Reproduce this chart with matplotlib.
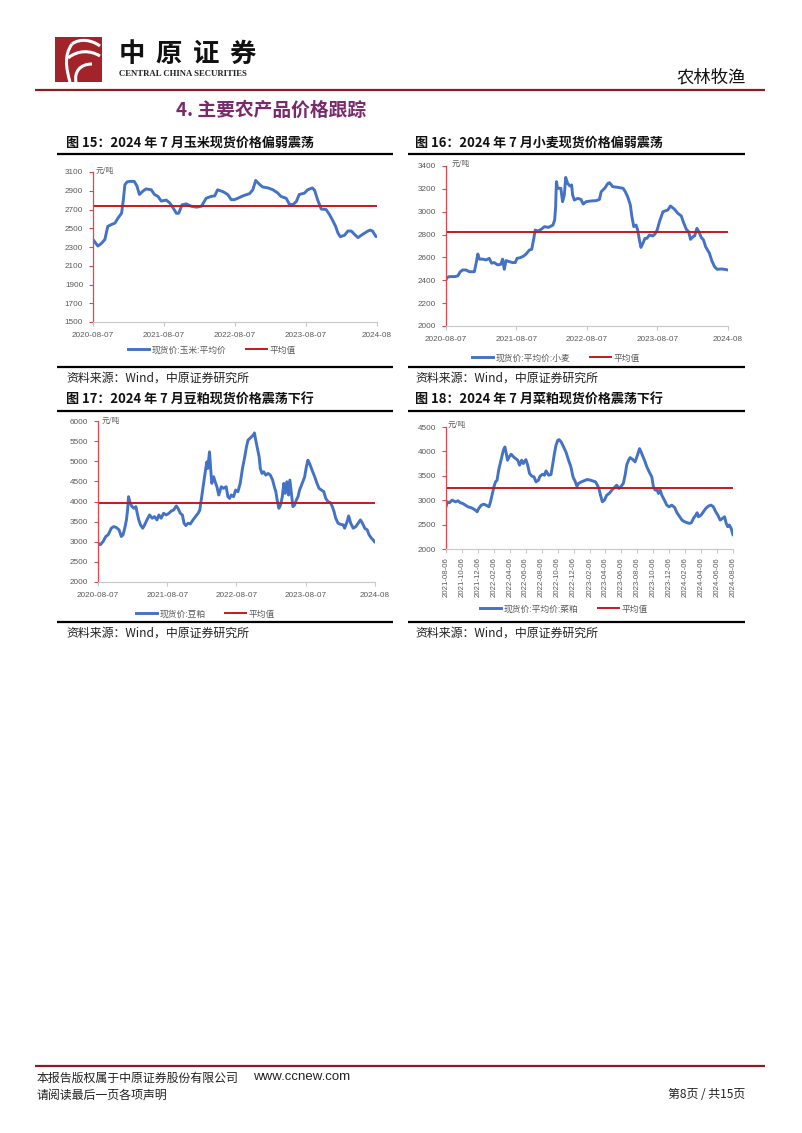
import matplotlib
matplotlib.use("Agg")
import matplotlib.pyplot as plt
from matplotlib.lines import Line2D
from matplotlib.patches import Rectangle, PathPatch
from matplotlib.path import Path
import pandas as pd

# ---------------- data ----------------
corn_dates = ["2020-08-07","2020-09-01","2020-09-20","2020-10-07","2020-10-22","2020-11-10","2020-11-28","2020-12-14","2021-01-01","2021-01-10",
              "2021-01-18","2021-01-30","2021-02-13","2021-03-07","2021-03-21","2021-04-03","2021-04-20","2021-05-07","2021-06-03","2021-06-19",
              "2021-07-07","2021-07-24","2021-08-19","2021-09-06","2021-09-22","2021-10-10","2021-10-22","2021-11-08","2021-11-30","2021-12-25",
              "2022-01-22","2022-02-16","2022-03-12","2022-04-07","2022-04-25","2022-05-10","2022-06-07","2022-07-01","2022-07-19","2022-08-04",
              "2022-08-22","2022-09-17","2022-10-22","2022-11-07","2022-11-22","2022-12-13","2022-12-28","2023-01-25","2023-02-19","2023-03-16",
              "2023-03-31","2023-04-28","2023-05-13","2023-05-31","2023-06-19","2023-07-04","2023-07-31","2023-08-16","2023-09-09","2023-09-21",
              "2023-10-07","2023-10-25","2023-11-19","2023-12-07","2023-12-25","2024-01-07","2024-01-19","2024-01-31","2024-02-22","2024-03-10",
              "2024-03-28","2024-04-13","2024-05-01","2024-05-25","2024-06-21","2024-07-03","2024-07-15","2024-08-02"]
corn_vals = [2380,2310,2340,2380,2520,2540,2555,2610,2660,2800,
             2965,2995,3000,3000,2950,2860,2895,2920,2910,2860,
             2840,2790,2800,2770,2720,2660,2660,2750,2760,2735,
             2725,2735,2820,2840,2845,2910,2890,2860,2805,2805,
             2820,2845,2870,2910,3010,2965,2940,2930,2910,2875,
             2840,2820,2760,2750,2785,2860,2875,2910,2930,2905,
             2800,2705,2700,2645,2575,2520,2450,2410,2425,2470,
             2470,2435,2400,2435,2470,2480,2470,2410]
corn_mean = 2735

wheat_dates = ["2020-08-07","2020-08-12","2020-08-24","2020-09-20","2020-10-07","2020-10-20","2020-11-01","2020-11-19","2020-12-06","2021-01-01",
               "2021-01-10","2021-01-19","2021-01-27","2021-02-14","2021-03-03","2021-03-19","2021-03-31","2021-04-14","2021-05-01","2021-05-18",
               "2021-05-27","2021-06-05","2021-06-14","2021-07-01","2021-07-18","2021-08-01","2021-08-10","2021-08-27","2021-09-14","2021-09-26",
               "2021-10-13","2021-10-25","2021-11-05","2021-11-12","2021-11-26","2021-12-13","2021-12-30","2022-01-20","2022-02-12","2022-02-21",
               "2022-02-26","2022-03-02","2022-03-08","2022-03-25","2022-04-03","2022-04-12","2022-04-19","2022-04-29","2022-05-11","2022-05-20",
               "2022-05-25","2022-06-03","2022-06-20","2022-07-07","2022-07-19","2022-08-03","2022-08-28","2022-09-24","2022-10-11","2022-10-20",
               "2022-11-07","2022-11-24","2022-12-02","2022-12-19","2023-01-15","2023-02-10","2023-02-22","2023-03-06","2023-03-20","2023-03-28",
               "2023-04-07","2023-04-19","2023-04-27","2023-05-06","2023-05-14","2023-05-24","2023-06-04","2023-06-14","2023-06-27","2023-07-14",
               "2023-07-26","2023-08-06","2023-08-18","2023-09-05","2023-09-30","2023-10-14","2023-11-04","2023-11-21","2023-12-09","2023-12-19",
               "2024-01-04","2024-01-16","2024-01-26","2024-02-08","2024-02-16","2024-02-28","2024-03-09","2024-03-21","2024-04-02","2024-04-13",
               "2024-04-25","2024-05-03","2024-05-15","2024-05-29","2024-06-12","2024-07-03","2024-07-20","2024-08-07"]
wheat_vals = [2405,2423,2432,2432,2438,2475,2490,2490,2475,2475,
              2550,2630,2585,2585,2578,2592,2550,2555,2535,2540,
              2585,2496,2572,2563,2555,2555,2592,2598,2613,2630,
              2665,2671,2767,2840,2831,2846,2869,2863,2883,2928,
              3044,3263,3205,3205,3088,3146,3300,3248,3225,3234,
              3146,3102,3117,3108,3067,3088,3094,3097,3108,3175,
              3205,3248,3254,3219,3213,3205,3175,3132,3059,2957,
              2869,2883,2840,2753,2688,2723,2767,2767,2796,2788,
              2805,2840,2913,3000,3015,3050,3021,2986,2963,2913,
              2846,2825,2758,2782,2788,2855,2825,2776,2753,2694,
              2659,2636,2572,2519,2496,2499,2496,2490]
wheat_mean = 2820

soy_dates = ["2020-08-07","2020-08-19","2020-09-03","2020-09-17","2020-09-29","2020-10-08","2020-10-16","2020-10-29","2020-11-12","2020-11-26",
             "2020-12-08","2020-12-17","2020-12-26","2021-01-04","2021-01-10","2021-01-15","2021-01-22","2021-01-31","2021-02-12","2021-02-23",
             "2021-03-02","2021-03-10","2021-03-19","2021-03-31","2021-04-10","2021-04-22","2021-05-06","2021-05-20","2021-06-01","2021-06-14",
             "2021-06-24","2021-07-06","2021-07-19","2021-08-02","2021-08-16","2021-08-29","2021-09-10","2021-09-24","2021-10-03","2021-10-15",
             "2021-10-26","2021-11-04","2021-11-13","2021-11-25","2021-12-07","2021-12-21","2022-01-03","2022-01-17","2022-01-26","2022-01-31",
             "2022-02-10","2022-02-18","2022-02-25","2022-03-04","2022-03-09","2022-03-18","2022-03-23","2022-03-30","2022-04-09","2022-04-17",
             "2022-04-26","2022-05-06","2022-05-19","2022-05-31","2022-06-14","2022-06-23","2022-07-02","2022-07-11","2022-07-23","2022-08-03",
             "2022-08-15","2022-08-27","2022-09-08","2022-09-20","2022-09-29","2022-10-07","2022-10-16","2022-10-25","2022-11-03","2022-11-10",
             "2022-11-17","2022-11-26","2022-12-05","2022-12-11","2022-12-20","2022-12-29","2023-01-09","2023-01-21","2023-02-02","2023-02-14",
             "2023-02-23","2023-03-03","2023-03-10","2023-03-19","2023-03-28","2023-04-06","2023-04-14","2023-04-21","2023-04-30","2023-05-09",
             "2023-05-16","2023-05-23","2023-06-01","2023-06-10","2023-06-19","2023-06-28","2023-07-06","2023-07-20","2023-08-02","2023-08-11",
             "2023-08-19","2023-08-28","2023-09-10","2023-09-24","2023-10-06","2023-10-17","2023-10-29","2023-11-11","2023-11-21","2023-12-03",
             "2023-12-16","2023-12-26","2024-01-04","2024-01-13","2024-01-25","2024-02-07","2024-02-21","2024-02-29","2024-03-13","2024-03-21",
             "2024-04-01","2024-04-14","2024-04-28","2024-05-10","2024-05-22","2024-06-02","2024-06-14","2024-06-27","2024-07-07","2024-07-19",
             "2024-07-28","2024-08-06"]
soy_vals = [2965,2924,3006,3130,3171,3254,3336,3377,3353,3295,
            3130,3171,3336,3542,3790,4120,3996,3889,3831,3872,
            3707,3542,3419,3336,3419,3542,3666,3584,3625,3542,
            3666,3584,3707,3666,3707,3765,3790,3889,3831,3707,
            3666,3460,3402,3460,3443,3542,3625,3707,3790,3955,
            4285,4532,4779,4985,4821,5233,4903,4450,4614,4491,
            4367,4161,4367,4326,4367,4120,4078,4161,4120,4285,
            4243,4450,4821,5109,5357,5522,5563,5604,5645,5703,
            5522,5316,5109,4821,4697,4738,4656,4697,4656,4532,
            4367,4243,4037,3831,3913,4120,4450,4202,4491,4161,
            4532,4243,3872,3913,4037,4120,4285,4450,4614,4862,
            5027,4944,4779,4614,4450,4326,4285,4243,4078,3996,
            3971,3872,3748,3584,3460,3435,3419,3336,3501,3641,
            3460,3336,3377,3460,3542,3460,3336,3295,3171,3089,
            3047,2990]
soy_mean = 3970

rape_dates = ["2021-08-06","2021-08-11","2021-08-19","2021-08-29","2021-09-11","2021-09-21","2021-09-30","2021-10-09","2021-10-19","2021-10-29",
              "2021-11-07","2021-11-16","2021-11-26","2021-12-03","2021-12-09","2021-12-19","2021-12-28","2022-01-06","2022-01-17","2022-01-23",
              "2022-01-30","2022-02-05","2022-02-11","2022-02-17","2022-02-23","2022-03-01","2022-03-07","2022-03-13","2022-03-19","2022-03-23",
              "2022-03-29","2022-04-04","2022-04-12","2022-04-21","2022-04-29","2022-05-07","2022-05-14","2022-05-22","2022-05-28","2022-06-07",
              "2022-06-14","2022-06-21","2022-06-30","2022-07-08","2022-07-16","2022-07-25","2022-07-31","2022-08-10","2022-08-17","2022-08-23",
              "2022-09-02","2022-09-11","2022-09-17","2022-09-24","2022-09-30","2022-10-07","2022-10-12","2022-10-20","2022-10-29","2022-11-07",
              "2022-11-17","2022-11-26","2022-12-04","2022-12-13","2022-12-19","2022-12-25","2023-01-05","2023-01-14","2023-01-27","2023-02-09",
              "2023-02-17","2023-02-28","2023-03-07","2023-03-13","2023-03-19","2023-03-26","2023-04-03","2023-04-12","2023-04-21","2023-05-01",
              "2023-05-11","2023-05-20","2023-05-29","2023-06-06","2023-06-14","2023-06-21","2023-06-27","2023-07-04","2023-07-10","2023-07-19",
              "2023-07-29","2023-08-07","2023-08-15","2023-08-21","2023-08-26","2023-09-03","2023-09-12","2023-09-21","2023-10-01","2023-10-07",
              "2023-10-14","2023-10-20","2023-10-26","2023-11-02","2023-11-08","2023-11-18","2023-11-27","2023-12-06","2023-12-16","2023-12-27",
              "2024-01-05","2024-01-14","2024-01-24","2024-02-03","2024-02-13","2024-02-22","2024-02-29","2024-03-08","2024-03-17","2024-03-22",
              "2024-03-27","2024-04-06","2024-04-15","2024-04-24","2024-05-04","2024-05-14","2024-05-23","2024-06-01","2024-06-09","2024-06-18",
              "2024-06-27","2024-07-05","2024-07-11","2024-07-17","2024-07-23","2024-07-30","2024-08-06"]
rape_vals = [2865,2967,2947,3001,2967,2988,2947,2933,2899,2865,
             2851,2831,2797,2763,2831,2899,2919,2899,2865,2967,
             3138,3274,3376,3410,3614,3751,3887,4023,4091,3989,
             3819,3887,3941,3887,3853,3819,3717,3819,3751,3832,
             3717,3546,3492,3478,3376,3410,3492,3533,3512,3601,
             3512,3526,3717,3955,4125,4228,4241,4193,4091,3989,
             3819,3683,3478,3376,3287,3342,3376,3396,3424,3410,
             3396,3376,3308,3240,3104,2967,3001,3104,3138,3206,
             3260,3308,3240,3287,3342,3512,3717,3819,3873,3839,
             3785,3921,4057,3989,3921,3819,3683,3580,3478,3274,
             3206,3240,3138,3206,3104,3001,2899,2865,2899,2851,
             2743,2674,2593,2559,2538,2525,2538,2627,2695,2743,
             2661,2695,2763,2831,2879,2899,2865,2763,2695,2593,
             2627,2661,2525,2457,2491,2422,2286]
rape_mean = 3260

xt4 = ["2020-08-07", "2021-08-07", "2022-08-07", "2023-08-07", "2024-08-07"]
xt4_labels = ["2020-08-07", "2021-08-07", "2022-08-07", "2023-08-07", "2024-08"]
rape_ticks = ["2021-08-06","2021-10-06","2021-12-06","2022-02-06","2022-04-06","2022-06-06","2022-08-06",
              "2022-10-06","2022-12-06","2023-02-06","2023-04-06","2023-06-06","2023-08-06","2023-10-06",
              "2023-12-06","2024-02-06","2024-04-06","2024-06-06","2024-08-06"]

corn_yticks = [1500, 1700, 1900, 2100, 2300, 2500, 2700, 2900, 3100]
wheat_yticks = [2000, 2200, 2400, 2600, 2800, 3000, 3200, 3400]
soy_yticks = [2000, 2500, 3000, 3500, 4000, 4500, 5000, 5500, 6000]
rape_yticks = [2000, 2500, 3000, 3500, 4000, 4500]

titles = ["图 15：2024 年 7 月玉米现货价格偏弱震荡", "图 16：2024 年 7 月小麦现货价格偏弱震荡",
          "图 17：2024 年 7 月豆粕现货价格震荡下行", "图 18：2024 年 7 月菜粕现货价格震荡下行"]
series_names = ["现货价:玉米:平均价", "现货价:平均价:小麦", "现货价:豆粕", "现货价:平均价:菜粕"]
source_text = "资料来源：Wind，中原证券研究所"

# ---------------- style ----------------
W, H = 802, 1133
BLUE = "#4472C4"
RED = "#C8161D"
AXRED = "#E0474C"
GRAY = "#595959"
DARKRED = "#8C1D22"
CJK = ['Noto Sans CJK SC', 'DejaVu Sans']
plt.rcParams['font.family'] = CJK

fig = plt.figure(figsize=(W / 100, H / 100), dpi=100)
fig.patch.set_facecolor("white")

ov = fig.add_axes([0, 0, 1, 1])
ov.set_xlim(0, W)
ov.set_ylim(H, 0)
ov.axis("off")


def T(x, y, s, **kw):
    kw.setdefault("va", "center")
    ov.text(x, y, s, **kw)


def HL(x0, x1, y, color="black", lw=1.5):
    ov.plot([x0, x1], [y, y], color=color, lw=lw, solid_capstyle="butt")


# header logo
ov.add_patch(Rectangle((55, 37), 47, 45, color="#A3232B", lw=0))
logo_paths = [
    [(70, 82), (66, 68), (64, 55), (72, 44)],
    [(72, 44), (80, 38), (92, 40), (100, 46)],
    [(68, 58), (78, 50), (90, 50), (100, 56)],
    [(76, 82), (74, 72), (80, 64), (92, 64)],
]
for pts in logo_paths:
    p = Path(pts, [Path.MOVETO, Path.CURVE4, Path.CURVE4, Path.CURVE4])
    ov.add_patch(PathPatch(p, facecolor="none", edgecolor="white", lw=2.2))
for ch, cx in zip("中原证券", [132, 169, 206, 242]):
    T(cx, 54, ch, ha="center", fontsize=19, fontweight="bold", color="#111111")
T(183, 74, "CENTRAL CHINA SECURITIES", ha="center", fontsize=6.3, fontweight="bold",
  family=["Liberation Serif", "DejaVu Serif"], color="#222222")
T(746, 77, "农林牧渔", ha="right", fontsize=12.5, color="#111111")
HL(35, 765, 90, color=DARKRED, lw=1.6)
T(176, 110, "4. 主要农产品价格跟踪", ha="left", fontsize=13.5, fontweight="bold", color="#7A2A6C")

# footer
HL(35, 765, 1066, color=DARKRED, lw=1.6)
T(37, 1078, "本报告版权属于中原证券股份有限公司", ha="left", fontsize=8.6, color="#222222")
T(253, 1077, "www.ccnew.com", ha="left", fontsize=9.5, family=["Liberation Sans", "DejaVu Sans"], color="#222222")
T(37, 1095, "请阅读最后一页各项声明", ha="left", fontsize=8.6, color="#222222")
T(745, 1095, "第8页 / 共15页", ha="right", fontsize=8.6, color="#222222")


def panel(box, title_xy, line_x, title_line_y, bottom_line_y, source_y, title, name,
          dates, vals, mean, yticks, xlim, xticks, xlabels, legend_c, unit_xy, rot=0):
    l, r, t, b = box
    T(title_xy[0], title_xy[1], title, ha="left", fontsize=9.4, fontweight="heavy", color="#111111")
    HL(line_x[0], line_x[1], title_line_y, lw=1.6)
    HL(line_x[0], line_x[1], bottom_line_y, lw=1.6)
    T(title_xy[0], source_y, source_text, ha="left", fontsize=8.6, color="#222222")

    ax = fig.add_axes([l / W, 1 - b / H, (r - l) / W, (b - t) / H])
    ax.patch.set_alpha(0)
    d = pd.to_datetime(dates)
    xl = pd.to_datetime(xlim)
    ax.plot(d, vals, color=BLUE, lw=2.1, solid_joinstyle="round", solid_capstyle="round")
    ax.plot(xl, [mean, mean], color=RED, lw=1.4)
    ax.set_xlim(xl[0], xl[1])
    ax.set_ylim(yticks[0], yticks[-1])
    ax.set_yticks(yticks)
    ax.set_yticklabels([str(v) for v in yticks])
    ax.set_xticks(pd.to_datetime(xticks))
    ax.set_xticklabels(xlabels, rotation=rot, va="top", ha="center")
    for s in ["top", "right"]:
        ax.spines[s].set_visible(False)
    ax.spines["left"].set_color(AXRED)
    ax.spines["left"].set_linewidth(0.9)
    ax.spines["bottom"].set_color("#C8C8C8")
    ax.spines["bottom"].set_linewidth(0.8)
    ax.tick_params(axis="y", colors=AXRED, labelcolor=GRAY, labelsize=5.9, length=3, width=0.8, pad=4)
    ax.tick_params(axis="x", colors="#C8C8C8", labelcolor=GRAY, labelsize=5.9, length=3, width=0.8, pad=4)
    for lab in ax.get_yticklabels() + ax.get_xticklabels():
        lab.set_family(["Liberation Sans", "DejaVu Sans"])
    T(unit_xy[0], unit_xy[1], "元/吨", ha="left", fontsize=5.5, color=GRAY)
    handles = [Line2D([], [], color=BLUE, lw=2.1), Line2D([], [], color=RED, lw=1.4)]
    ax.legend(handles, [name, "平均值"], loc="center",
              bbox_to_anchor=(legend_c[0] / W, 1 - legend_c[1] / H), bbox_transform=fig.transFigure,
              ncol=2, frameon=False, fontsize=6.3, handlelength=2.4, columnspacing=2.2,
              handletextpad=0.3, labelcolor=GRAY)
    return ax


panel((93, 377, 172, 322), (66, 143), (57, 393), 154, 367, 378, titles[0], series_names[0],
      corn_dates, corn_vals, corn_mean, corn_yticks, [xt4[0], xt4[-1]], xt4, xt4_labels,
      (212, 350), (96, 171))
panel((446, 728, 166, 326), (415, 143), (408, 745), 154, 367, 378, titles[1], series_names[1],
      wheat_dates, wheat_vals, wheat_mean, wheat_yticks, [xt4[0], xt4[-1]], xt4, xt4_labels,
      (556, 358), (452, 164))
panel((98, 375, 421, 582), (66, 400), (57, 393), 411, 622, 633, titles[2], series_names[2],
      soy_dates, soy_vals, soy_mean, soy_yticks, [xt4[0], xt4[-1]], xt4, xt4_labels,
      (205, 614), (102, 421))
ax18 = panel((446, 733, 427, 549), (415, 400), (408, 745), 411, 622, 633, titles[3], series_names[3],
             rape_dates, rape_vals, rape_mean, rape_yticks, [rape_ticks[0], rape_ticks[-1]], rape_ticks, rape_ticks,
             (564, 609), (448, 425), rot=90)
ax18.tick_params(axis="x", labelsize=5.6, pad=3)

fig.savefig("out.png", dpi=100, facecolor="white")
